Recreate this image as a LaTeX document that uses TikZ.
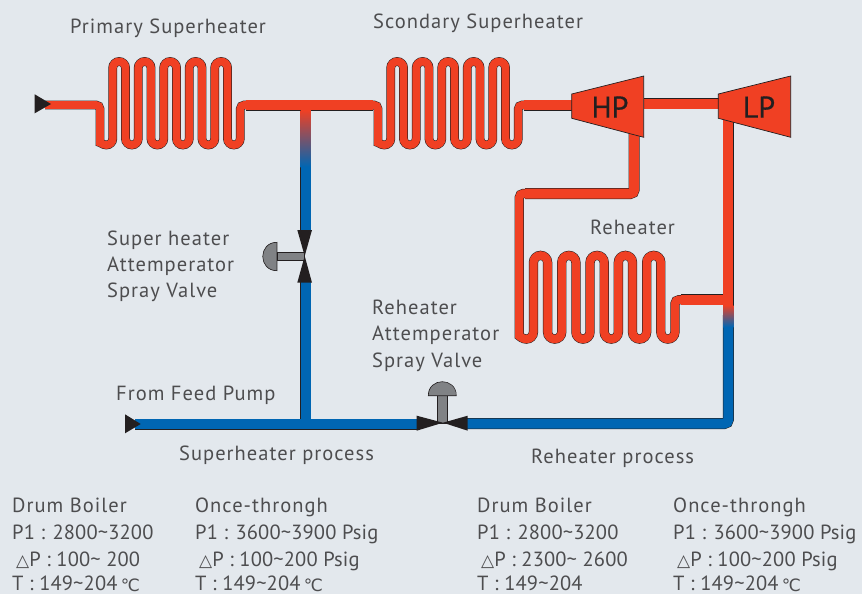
\documentclass[tikz,border=0pt]{standalone}
\usepackage{fontspec}
\setmainfont{PT Sans}
\newfontfamily\symfont{DejaVu Sans}
\usetikzlibrary{calc}
\definecolor{backgr}{RGB}{227, 232, 237}
\definecolor{hotpipe}{RGB}{240, 64, 35}
\definecolor{coldpipe}{RGB}{0, 102, 179}
\definecolor{outline}{RGB}{35, 31, 32}
\definecolor{valvegray}{RGB}{128, 130, 133}
\definecolor{schrift}{RGB}{77, 77, 79}
\newcommand{\tld}{\textasciitilde}
\newcommand{\dreieck}{{\symfont\fontsize{17}{17}\selectfont △}}
\newcommand{\grad}{\,\raisebox{-1pt}{\symfont\fontsize{17}{17}\selectfont ℃}}
\newcommand{\coil}[4]{
    % #1 = x erstes rohr
    % #2 = y oben
    % #3 = y unten
    % #4 = abstand
    [sharp corners]
    \foreach \k in {0,...,4} {
        arc[start angle=180, end angle=0, radius=#4/2]
        -- ({#1+(2*\k+1)*#4},#2)
        arc[start angle=180, end angle=360, radius=#4/2]
        -- ({#1+(2*\k+2)*#4},#3)
    }
    arc[start angle=180, end angle=0, radius=#4/2]
    [rounded corners=4pt]
}
\tikzset{
    hot/.style={draw=outline, line width=0.5pt, double=hotpipe, double distance=10pt, rounded corners=4pt},
    cold/.style={hot, double=coldpipe},
    coilhot/.style={hot, double distance=7.8pt},
    valvepart/.style={draw=outline, line width=0.6pt, fill=valvegray},
    tip/.style={fill=outline, draw=none},
    txt/.style={anchor=base west, inner sep=0pt, text=schrift, font=\fontsize{20.5}{21}\selectfont\addfontfeature{LetterSpace=5}},
    zahl/.style={txt, font=\fontsize{20.5}{21}\selectfont\addfontfeature{LetterSpace=0.7}},
    turbtxt/.style={inner sep=0pt, text=outline, font=\fontsize{30}{30}\selectfont\addfontfeature{FakeBold=0.5}},
}
\begin{document}
\begin{tikzpicture}[x=1pt, y=-1pt]

    \useasboundingbox[fill=backgr] (0,0) rectangle (862,594);

    % anschlusspunkte
    \coordinate (inlet) at (45,105);
    \coordinate (teetop) at (305.5,105);
    \coordinate (coiltwoin) at (378,105);
    \coordinate (hpin) at (572,105);
    \coordinate (hpout) at (644,103.7);
    \coordinate (lpin) at (718.5,103.7);
    \coordinate (hpdown) at (634.2,130);
    \coordinate (lpdown) at (728.3,115);
    \coordinate (teeright) at (728.3,299.7);
    \coordinate (cornerright) at (728.3,423.5);
    \coordinate (feed) at (135,424);
    \coordinate (teebottom) at (305.5,424);
    \coordinate (valvetwoleft) at (420,424);
    \coordinate (valvetworight) at (465,423.5);
    \coordinate (valveoneup) at (305.5,232);
    \coordinate (valveonedown) at (305.5,280);

    % senkrechte kalt
    \draw[cold] (teetop) -- (valveoneup);
    \draw[cold] (valveonedown) -- (teebottom);

    % rohr dampf
    \draw[coilhot] (inlet) -- (100,105) -- (100,138.6) \coil{100}{67.9}{138.6}{12.75} -- (240.3,105) -- (250,105);
    \draw[coilhot] (365,105) -- (coiltwoin) -- (378,138.6) \coil{378}{67.9}{138.6}{12.75} -- (518.3,105) -- (528,105);
    \draw[hot] (245.5,105) -- (teetop) -- (373,105);
    \draw[hot] (523.5,105) -- (hpin);
    \draw[hot] (hpout) -- (lpin);

    % rohr reheater
    \draw[coilhot, double distance=8.3pt] (530,193.5) -- (519.3,193.5) -- (519.3,332) \coil{519.3}{262.5}{332}{14.15} -- (675,299.7) -- (685,299.7);
    \draw[hot] (hpdown) -- (634.2,193.5) -- (525,193.5);
    \draw[hot] (680.5,299.7) -- (teeright);
    \draw[hot] (lpdown) -- (teeright) -- (728.3,330);
    \draw[cold] (728.3,315) -- (cornerright) -- (valvetworight);
    \draw[cold] (feed) -- (teebottom) -- (valvetwoleft);

    % uebergaenge
    \shade[top color=hotpipe, bottom color=coldpipe] (300.5,110) rectangle (310.5,167);
    \fill[hotpipe] (300.5,100) rectangle (310.5,110.5);
    \fill[coldpipe] (300.5,415) rectangle (310.5,424);
    \fill[hotpipe] (720,294.7) rectangle (728.3,304.7);
    \shade[top color=hotpipe, bottom color=coldpipe] (723.3,305) rectangle (733.3,327);

    % turbinen
    \draw[draw=outline, line width=0.7pt, fill=hotpipe] (571.7,94) -- (643.7,76) -- (643.7,137.3) -- (571.7,118.3) -- cycle;
    \draw[draw=outline, line width=0.7pt, fill=hotpipe] (718.3,94) -- (790.7,76) -- (790.7,137.3) -- (718.3,118.3) -- cycle;
    \node[turbtxt] (HP) at (610,107) {HP};
    \node[turbtxt] (LP) at (759,107) {LP};

    % ventile
    \fill[tip] (34.7,94.3) -- (51,104) -- (34.7,113.3) -- cycle;
    \fill[tip] (125,414.3) -- (140.7,424) -- (125,433.3) -- cycle;

    \draw[valvepart] (277,252) rectangle (304,260.7);
    \draw[valvepart] (277,242.3) .. controls (258,242.3) and (258,270.7) .. (277,270.7) -- cycle;
    \fill[tip] (297.3,230) -- (312,230) -- (304.7,256) -- cycle;
    \fill[tip] (297.3,282.7) -- (312,282.7) -- (304.7,256) -- cycle;

    \draw[valvepart] (437.7,395.7) rectangle (447,423);
    \draw[valvepart] (428.3,395.7) .. controls (428.3,377) and (456.3,377) .. (456.3,395.7) -- cycle;
    \fill[tip] (416.7,415.7) -- (416.7,430.7) -- (443,422.7) -- cycle;
    \fill[tip] (467.7,415.7) -- (467.7,430.7) -- (443,422.7) -- cycle;

    % beschriftung
    \node[txt] (primary) at (70,34) {Primary Superheater};
    \node[txt] (scondary) at (373,29) {Scondary Superheater};
    \node[txt] (reheater) at (590,234) {Reheater};

    \node[txt] (superone) at (107,245) {Super heater};
    \node[txt] (supertwo) at (107,271) {Attemperator};
    \node[txt] (superthree) at (107,297) {Spray Valve};

    \node[txt] (reone) at (372,314) {Reheater};
    \node[txt] (retwo) at (372,340) {Attemperator};
    \node[txt] (rethree) at (372,367) {Spray Valve};

    \node[txt] (feedpump) at (116,400) {From Feed Pump};
    \node[txt] (superproc) at (179,460) {Superheater process};
    \node[txt] (reproc) at (531,463) {Reheater process};

    %
    %
    %

    \node[txt] (aone) at (12,512) {Drum Boiler};
    \node[zahl] (atwo) at (12,539) {P1 : 2800\tld 3200};
    \node[zahl] (athree) at (16,566) {\dreieck P : 100\tld\ 200};
    \node[zahl] (afour) at (12,590) {T : 149\tld 204\grad};

    \node[txt] (bone) at (195,512) {Once-throngh};
    \node[zahl] (btwo) at (195,539) {P1 : 3600\tld 3900 Psig};
    \node[zahl] (bthree) at (199,566) {\dreieck P : 100\tld 200 Psig};
    \node[zahl] (bfour) at (195,590) {T : 149\tld 204\grad};

    \node[txt] (cone) at (477,512) {Drum Boiler};
    \node[zahl] (ctwo) at (477,539) {P1 : 2800\tld 3200};
    \node[zahl] (cthree) at (481,566) {\dreieck P : 2300\tld\ 2600};
    \node[zahl] (cfour) at (477,590) {T : 149\tld 204};

    \node[txt] (done) at (673,512) {Once-throngh};
    \node[zahl] (dtwo) at (673,539) {P1 : 3600\tld 3900 Psig};
    \node[zahl] (dthree) at (677,566) {\dreieck P : 100\tld 200 Psig};
    \node[zahl] (dfour) at (673,590) {T : 149\tld 204\grad};

\end{tikzpicture}
\end{document}
